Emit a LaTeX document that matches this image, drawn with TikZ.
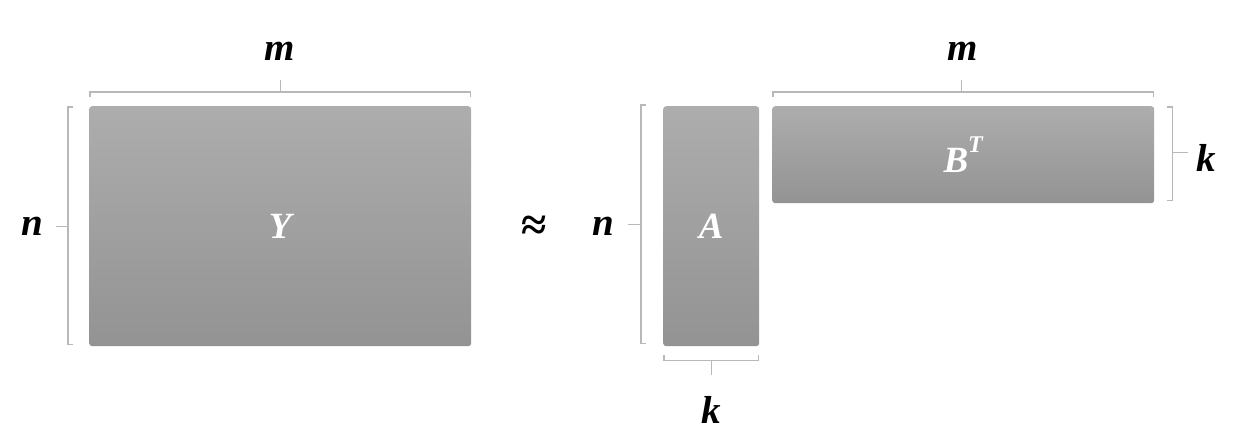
\documentclass[tikz,border=0pt]{standalone}
\usepackage{fontspec}
\usepackage{tikz}
\usetikzlibrary{calc,positioning}

\newfontfamily\labelfont{Liberation Serif}

\definecolor{matTop}{HTML}{ADADAD}
\definecolor{matBot}{HTML}{939393}
\definecolor{braceGray}{HTML}{B8B8B8}

\begin{document}
\begin{tikzpicture}[x=1pt, y=-1pt,
            matrixbox/.style={rectangle, rounded corners=3pt, inner sep=0pt, anchor=north west,
            top color=matTop, bottom color=matBot, text=white,
            font=\labelfont\bfseries\itshape\fontsize{37}{41}\selectfont},
            brace/.style={draw=braceGray, line width=1.3pt},
            dimlabel/.style={inner sep=0pt, anchor=base,
            font=\labelfont\bfseries\itshape\fontsize{39}{43}\selectfont}]
            \useasboundingbox (0,0) rectangle (1239,430);

            % the three matrices
            \node (Y) [matrixbox, minimum width=382pt, minimum height=240pt] at (89,106) {Y};
            \node (A) [matrixbox, minimum width=96pt, minimum height=240pt] at (663,106) {A};
            \node (BT) [matrixbox, minimum width=382pt, minimum height=97pt] at (772,106) {B\raisebox{0.55em}{\fontsize{24}{26}\selectfont T}};

            % braces round Y
            \draw [brace] ([xshift=1pt,yshift=9pt]Y.north west) -- ([xshift=1pt,yshift=14pt]Y.north west)
                -- ([xshift=-1pt,yshift=14pt]Y.north east) -- ([xshift=-1pt,yshift=9pt]Y.north east);
            \draw [brace] ([yshift=14pt]Y.north) -- ([yshift=26pt]Y.north) coordinate (Ytop);
            \draw [brace] ([xshift=-16pt,yshift=-1pt]Y.north west) -- ([xshift=-21pt,yshift=-1pt]Y.north west)
                -- ([xshift=-21pt,yshift=2pt]Y.south west) -- ([xshift=-16pt,yshift=2pt]Y.south west);
            \draw [brace] ([xshift=-21pt]Y.west) -- ([xshift=-33pt]Y.west) coordinate (Yleft);

            % braces round A
            \draw [brace] ([xshift=-17pt,yshift=1pt]A.north west) -- ([xshift=-22pt,yshift=1pt]A.north west)
                -- ([xshift=-22pt,yshift=3pt]A.south west) -- ([xshift=-17pt,yshift=3pt]A.south west);
            \draw [brace] ([xshift=-22pt,yshift=2pt]A.west) -- ([xshift=-35pt,yshift=2pt]A.west) coordinate (Aleft);
            \draw [brace] ([xshift=1pt,yshift=-9pt]A.south west) -- ([xshift=1pt,yshift=-14pt]A.south west)
                -- ([xshift=-1pt,yshift=-14pt]A.south east) -- ([xshift=-1pt,yshift=-9pt]A.south east);
            \draw [brace] ([yshift=-14pt]A.south) -- ([yshift=-29pt]A.south) coordinate (Abot);

            % braces round B^T
            \draw [brace] ([xshift=1pt,yshift=9pt]BT.north west) -- ([xshift=1pt,yshift=14pt]BT.north west)
                -- ([xshift=-1pt,yshift=14pt]BT.north east) -- ([xshift=-1pt,yshift=9pt]BT.north east);
            \draw [brace] ([xshift=-2pt,yshift=14pt]BT.north) -- ([xshift=-2pt,yshift=26pt]BT.north) coordinate (Btop);
            \draw [brace] ([xshift=13pt,yshift=-1pt]BT.north east) -- ([xshift=18pt,yshift=-1pt]BT.north east)
                -- ([xshift=18pt,yshift=3pt]BT.south east) -- ([xshift=13pt,yshift=3pt]BT.south east);
            \draw [brace] ([xshift=18pt,yshift=2pt]BT.east) -- ([xshift=34pt,yshift=2pt]BT.east) coordinate (Bright);

            % dimension labels
            \node (m1) [dimlabel] at (280,61) {m};
            \node (n1) [dimlabel] at (32,236) {n};
            \node (approx) [dimlabel, anchor=center, font=\labelfont\bfseries\fontsize{46}{50}\selectfont] at (534,228) {≈};
            \node (n2) [dimlabel] at (603,236) {n};
            \node (k1) [dimlabel] at (711,423) {k};
            \node (m2) [dimlabel] at (963,61) {m};
            \node (k2) [dimlabel] at (1206,172) {k};
        \end{tikzpicture}
\end{document}
